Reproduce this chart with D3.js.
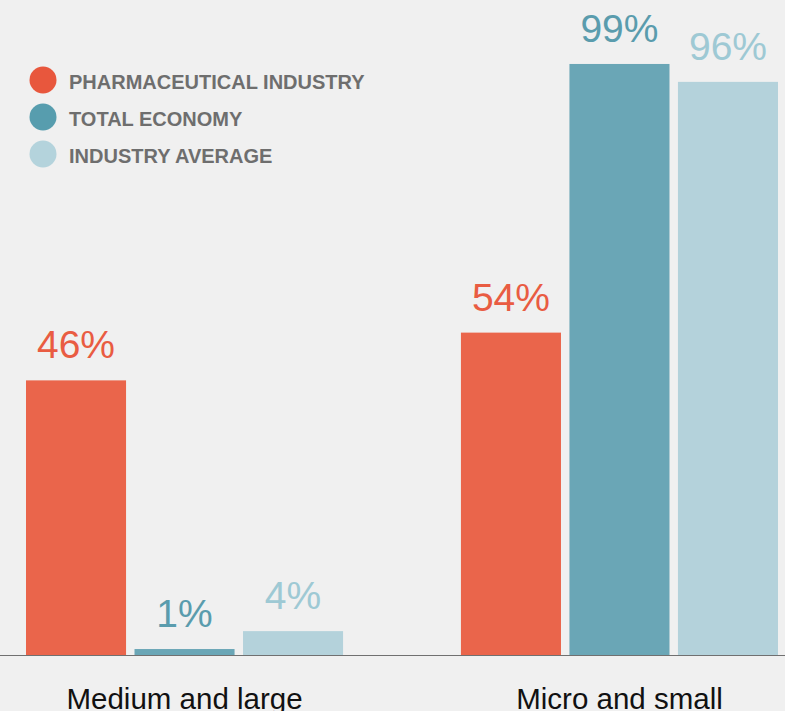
<!DOCTYPE html>
<html>
<head>
<meta charset="utf-8">
<script src="https://cdn.jsdelivr.net/npm/d3@7"></script>
<style>
  html, body { margin: 0; padding: 0; background: #f0f0f0; }
  svg { display: block; }
</style>
</head>
<body>
<svg id="chart" width="785" height="711"></svg>
<script>
const categories = ["Medium and large", "Micro and small"];
const seriesNames = ["PHARMACEUTICAL INDUSTRY", "TOTAL ECONOMY", "INDUSTRY AVERAGE"];
const pharmaValues = [46, 54];
const totalEconomyValues = [1, 99];
const industryAverageValues = [4, 96];

const seriesValues = [pharmaValues, totalEconomyValues, industryAverageValues];
const barColors = ["#ea654b", "#6aa6b6", "#b4d2db"];
const legendColors = ["#e8573d", "#579dae", "#b4d3dc"];
const labelColors = ["#e95c42", "#5a9cad", "#9ec9d4"];

const W = 785, H = 711;
const baseY = 655;
const svg = d3.select("#chart");
svg.append("rect").attr("width", W).attr("height", H).attr("fill", "#f0f0f0");

const x0 = d3.scaleBand().domain(categories).range([26, 778]).paddingInner(0.271).paddingOuter(0);
const x1 = d3.scaleBand().domain(seriesNames).range([0, x0.bandwidth()]).paddingInner(0.078).paddingOuter(0);
const y = d3.scaleLinear().domain([0, 100]).range([baseY, 58]);

const rows = [];
categories.forEach((c, ci) => {
  seriesNames.forEach((s, si) => {
    rows.push({ cat: c, series: s, si: si, value: seriesValues[si][ci] });
  });
});

const g = svg.append("g");
g.selectAll("rect.bar").data(rows).enter().append("rect")
  .attr("class", "bar")
  .attr("x", d => x0(d.cat) + x1(d.series))
  .attr("width", x1.bandwidth())
  .attr("y", d => y(d.value))
  .attr("height", d => baseY - y(d.value))
  .attr("fill", d => barColors[d.si]);

g.selectAll("text.val").data(rows).enter().append("text")
  .attr("class", "val")
  .attr("x", d => x0(d.cat) + x1(d.series) + x1.bandwidth() / 2)
  .attr("y", d => y(d.value) - 22)
  .attr("text-anchor", "middle")
  .attr("font-family", "'Liberation Sans', Arial, sans-serif")
  .attr("font-size", 39)
  .attr("fill", d => labelColors[d.si])
  .text(d => d.value + "%");

// baseline axis
const xAxis = d3.axisBottom(x0).tickSize(0).tickPadding(0);
const axisG = svg.append("g").attr("transform", `translate(0,${baseY})`).call(xAxis);
axisG.select(".domain").remove();
svg.append("line").attr("x1", 0).attr("x2", W).attr("y1", baseY + 0.5).attr("y2", baseY + 0.5)
  .attr("stroke", "#707070").attr("stroke-width", 1);
axisG.selectAll("text")
  .attr("y", 54)
  .attr("dy", 0)
  .attr("font-family", "'Liberation Sans', Arial, sans-serif")
  .attr("font-size", 29.5)
  .attr("fill", "#111");

// legend
const legend = svg.append("g");
seriesNames.forEach((s, i) => {
  const cy = 80 + i * 37;
  legend.append("circle").attr("cx", 43).attr("cy", cy).attr("r", 13.5).attr("fill", legendColors[i]);
  legend.append("text").attr("x", 69).attr("y", cy + 9)
    .attr("font-family", "'Liberation Sans', Arial, sans-serif")
    .attr("font-weight", "bold")
    .attr("font-size", 20)
    .attr("fill", "#6e6e6e")
    .text(s);
});
</script>
</body>
</html>
